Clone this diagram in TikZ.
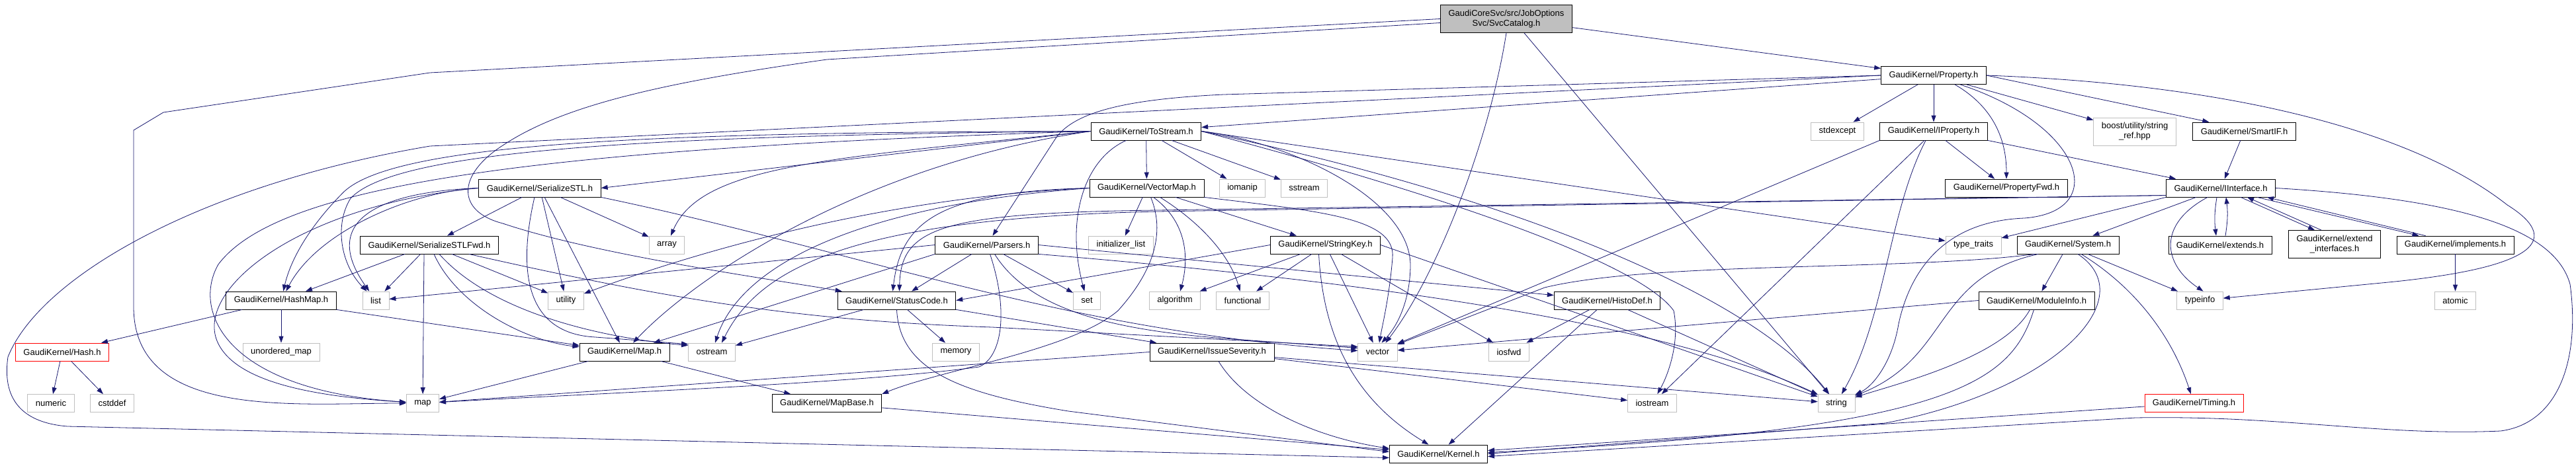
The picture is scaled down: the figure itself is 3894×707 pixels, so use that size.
\documentclass[tikz,border=0pt]{standalone}
\usepackage{fontspec}
\setmainfont{Liberation Sans}
\usetikzlibrary{arrows.meta}
\definecolor{edgeblue}{HTML}{191970}
\definecolor{stdgray}{HTML}{BFBFBF}
\begin{document}
\begin{tikzpicture}
    [
        x=1pt, y=-1pt,
        header/.style={rectangle, draw=black, fill=white, line width=0.8pt, inner xsep=12pt, inner ysep=0pt, minimum height=27pt, align=center, font=\fontsize{13}{15}\selectfont},
        stdlib/.style={header, draw=stdgray},
        partial/.style={header, draw=red},
        include/.style={draw=edgeblue, line width=0.8pt, -{Triangle[length=10pt,width=7pt]}},
    ]
    \fill[white] (0,0) rectangle (3894,707);
    \useasboundingbox (0,0) rectangle (3894,707);

    \node[header, fill=stdgray, minimum height=42pt] (cat) at (2277,28.5) {GaudiCoreSvc/src/JobOptions\\Svc/SvcCatalog.h};
    \node[header] (prop) at (2923,114) {GaudiKernel/Property.h};
    \node[header] (ts) at (1732.5,198.5) {GaudiKernel/ToStream.h};
    \node[stdlib] (stdexc) at (2777.5,198.5) {stdexcept};
    \node[header] (iprop) at (2923,198.5) {GaudiKernel/IProperty.h};
    \node[stdlib, minimum height=42pt] (boost) at (3227,199) {boost/utility/string\\\_ref.hpp};
    \node[header] (smartif) at (3392.5,198.5) {GaudiKernel/SmartIF.h};
    \node[header] (sstl) at (816,284.5) {GaudiKernel/SerializeSTL.h};
    \node[header] (vmap) at (1733.5,284.5) {GaudiKernel/VectorMap.h};
    \node[stdlib] (iomanip) at (1878,284.5) {iomanip};
    \node[stdlib] (sstream) at (1971.5,284.5) {sstream};
    \node[header] (pfwd) at (3033,284.5) {GaudiKernel/PropertyFwd.h};
    \node[header] (iint) at (3357,284.5) {GaudiKernel/IInterface.h};
    \node[header] (sfwd) at (649,370.5) {GaudiKernel/SerializeSTLFwd.h};
    \node[stdlib] (array) at (1008,370.5) {array};
    \node[header] (pars) at (1491.5,370.5) {GaudiKernel/Parsers.h};
    \node[stdlib] (initl) at (1694.5,370.5) {initializer\_list};
    \node[header] (skey) at (2003.5,370.5) {GaudiKernel/StringKey.h};
    \node[stdlib] (ttraits) at (2983,370.5) {type\_traits};
    \node[header] (system) at (3126,370.5) {GaudiKernel/System.h};
    \node[header] (ext) at (3356,370.5) {GaudiKernel/extends.h};
    \node[header, minimum height=42pt] (extif) at (3529,369.5) {GaudiKernel/extend\\\_interfaces.h};
    \node[header] (impl) at (3711.5,370.5) {GaudiKernel/implements.h};
    \node[header] (hmap) at (425,454.5) {GaudiKernel/HashMap.h};
    \node[stdlib] (list) at (568,454.5) {list};
    \node[stdlib] (util) at (855.5,454.5) {utility};
    \node[header] (sc) at (1355.5,454.5) {GaudiKernel/StatusCode.h};
    \node[stdlib] (set) at (1643,454.5) {set};
    \node[stdlib] (algo) at (1776,454.5) {algorithm};
    \node[stdlib] (func) at (1878.5,454.5) {functional};
    \node[header] (hdef) at (2429.5,454.5) {GaudiKernel/HistoDef.h};
    \node[header] (minfo) at (3078.5,454.5) {GaudiKernel/ModuleInfo.h};
    \node[stdlib] (tinfo) at (3325.5,454.5) {typeinfo};
    \node[stdlib] (atomic) at (3711.5,454.5) {atomic};
    \node[partial] (hash) at (94,532.5) {GaudiKernel/Hash.h};
    \node[stdlib] (umap) at (425,532.5) {unordered\_map};
    \node[header] (gmap) at (944,532.5) {GaudiKernel/Map.h};
    \node[stdlib] (ostream) at (1076,532.5) {ostream};
    \node[stdlib] (memory) at (1445,532.5) {memory};
    \node[header] (isev) at (1832,532.5) {GaudiKernel/IssueSeverity.h};
    \node[stdlib] (vector) at (2082.5,532.5) {vector};
    \node[stdlib] (iosfwd) at (2281,532.5) {iosfwd};
    \node[stdlib] (numeric) at (77,610) {numeric};
    \node[stdlib] (cstddef) at (169.5,610) {cstddef};
    \node[stdlib] (map) at (639,610) {map};
    \node[header] (mbase) at (1250,610) {GaudiKernel/MapBase.h};
    \node[stdlib] (iostream) at (2497.5,610) {iostream};
    \node[stdlib] (string) at (2776,610) {string};
    \node[partial] (timing) at (3316.5,610) {GaudiKernel/Timing.h};
    \node[header] (kernel) at (2174.5,686.5) {GaudiKernel/Kernel.h};

    \draw[include] (cat) -- (prop);
    \draw[include] (cat.west) -- (650,110) -- (247,170) -- (202,197) -- (202,464) to [out=-90,in=180] (map.west);
    \draw[include] ([yshift=-6pt]cat.west) -- (1250,90) .. controls (1000,125) and (850,160) .. (760,220) .. controls (690,265) and (690,320) .. (760,338) .. controls (900,385) and (1150,420) .. (sc);
    \draw[include] (cat.south) .. controls (2250,220) and (2170,420) .. ([xshift=12pt]vector.north);
    \draw[include] ([xshift=27pt]cat.south) -- (string);

    \draw[include] (prop) -- (ts);
    \draw[include] (prop) -- (stdexc);
    \draw[include] (prop) -- (iprop);
    \draw[include] ([xshift=32pt]prop.south) to [out=-30,in=90] (pfwd.north);
    \draw[include] (prop) -- (boost);
    \draw[include] (prop.east) -- ([xshift=25pt]smartif.north west);
    \draw[include] (prop.east) .. controls (3380,128) and (3650,200) .. (3790,310) .. controls (3870,360) and (3845,405) .. (3600,428) -- (tinfo);
    \draw[include] ([xshift=40pt]prop.south) .. controls (3150,190) and (3190,320) .. (3060,330) .. controls (2930,335) and (2885,420) .. (2870,490) .. controls (2860,550) and (2830,585) .. (string);
    \draw[include] (prop.west) -- (650,221) .. controls (300,280) and (60,420) .. (12,540) .. controls (2,610) and (40,640) .. (102,645) -- ([yshift=-6pt]kernel.west);
    \draw[include] (prop.west) -- (1850,143) .. controls (1700,150) and (1620,170) .. (1594,212) -- (pars);

    \draw[include] (ts) -- (vmap);
    \draw[include] (ts) -- (iomanip);
    \draw[include] (ts) -- (sstream);
    \draw[include] ([xshift=-30pt]ts.south) .. controls (1640,240) and (1610,330) .. (set);
    \draw[include] (ts.east) -- (ttraits);
    \draw[include] (ts.east) .. controls (1950,215) and (2130,300) .. (2132,400) .. controls (2132,450) and (2115,490) .. ([xshift=6pt]vector.north);
    \draw[include] (ts.east) .. controls (2200,300) and (2480,400) .. (2530,470) .. controls (2540,520) and (2520,570) .. (iostream);
    \draw[include] (ts.east) .. controls (2300,300) and (2650,450) .. (string);
    \draw[include] (ts.west) -- (sstl.east);
    \draw[include] (ts.west) .. controls (1250,240) and (1060,250) .. (array);
    \draw[include] (ts.west) .. controls (1000,200) and (600,215) .. (520,290) .. controls (470,340) and (440,390) .. (hmap);
    \draw[include] (ts.west) .. controls (1000,205) and (600,225) .. (530,300) .. controls (505,340) and (515,400) .. (list);
    \draw[include] (ts.west) .. controls (800,225) and (420,280) .. (330,400) .. controls (290,470) and (340,590) .. (map);
    \draw[include] (ts.west) .. controls (1300,250) and (1050,420) .. ([xshift=13pt]gmap.north);

    \draw[include] (sstl) -- (sfwd);
    \draw[include] (sstl.west) .. controls (620,290) and (480,350) .. (hmap);
    \draw[include] (sstl.west) .. controls (580,290) and (480,330) .. (list);
    \draw[include] (sstl.west) .. controls (450,310) and (290,440) .. (330,520) .. controls (360,580) and (480,600) .. (map);
    \draw[include] (sstl) -- (gmap);
    \draw[include] (sstl) -- (array);
    \draw[include] (sstl) -- (util);
    \draw[include] ([xshift=-8pt]sstl.south) .. controls (780,420) and (800,505) .. (900,510) -- ([yshift=-2pt]ostream.north west);
    \draw[include] (sstl.south east) .. controls (1300,380) and (1600,500) .. (vector);

    \draw[include] (sfwd) -- (hmap);
    \draw[include] (sfwd) -- (list);
    \draw[include] ([xshift=-8pt]sfwd.south) -- (map);
    \draw[include] ([xshift=7pt]sfwd.south) .. controls (690,460) and (790,515) .. (gmap);
    \draw[include] ([xshift=15pt]sfwd.south) .. controls (740,470) and (900,510) .. ([yshift=-4pt]ostream.north west);
    \draw[include] (sfwd) -- (util);
    \draw[include] ([xshift=60pt]sfwd.south) .. controls (1000,450) and (1200,485) .. (1500,495) -- ([yshift=8pt]vector.west);

    \draw[include] (hmap) -- (hash);
    \draw[include] (hmap) -- (umap);
    \draw[include] (hmap.south east) -- (gmap);
    \draw[include] (hash) -- (numeric);
    \draw[include] (hash) -- (cstddef);
    \draw[include] (gmap) -- (map);
    \draw[include] (gmap) -- (mbase);
    \draw[include] (mbase) -- (kernel);

    \draw[include] (vmap) -- (initl);
    \draw[include] ([xshift=10pt]vmap.south) .. controls (1800,340) and (1795,400) .. ([xshift=8pt]algo.north);
    \draw[include] ([xshift=20pt]vmap.south) .. controls (1820,340) and (1860,390) .. (func);
    \draw[include] ([xshift=6pt]vmap.south) .. controls (1765,360) and (1735,420) .. (1690,470) .. controls (1620,530) and (1420,560) .. (mbase.north east);
    \draw[include] (vmap) -- (skey);
    \draw[include] (vmap.south east) .. controls (2000,320) and (2110,330) .. (2105,390) .. controls (2100,450) and (2090,490) .. (vector);
    \draw[include] (vmap.west) .. controls (1300,300) and (1000,400) .. (util);
    \draw[include] (vmap.west) .. controls (1300,310) and (1120,400) .. ([xshift=5pt]ostream.north);
    \draw[include] (vmap.west) .. controls (1420,290) and (1362,335) .. ([xshift=-6pt]sc.north);

    \draw[include] (pars) -- (sc);
    \draw[include] (pars.west) -- (list);
    \draw[include] (pars.south west) -- (gmap);
    \draw[include] ([xshift=5pt]pars.south) .. controls (1525,470) and (1515,540) .. (1480,555) .. controls (1300,580) and (900,595) .. (map);
    \draw[include] (pars) -- (set);
    \draw[include] (pars.south east) .. controls (2000,420) and (2500,480) .. (string);
    \draw[include] ([xshift=12pt]pars.south) .. controls (1560,475) and (1700,500) .. (1850,512) -- ([yshift=6pt]vector.west);
    \draw[include] (pars.east) -- (hdef);

    \draw[include] (skey.west) -- (sc.east);
    \draw[include] (skey) -- (algo);
    \draw[include] (skey) -- (func);
    \draw[include] (skey) -- (vector);
    \draw[include] (skey) -- (iosfwd);
    \draw[include] (skey.east) -- (string);
    \draw[include] ([xshift=-10pt]skey.south) .. controls (2000,500) and (2040,600) .. ([xshift=-15pt]kernel.north);

    \draw[include] (hdef) -- (iosfwd);
    \draw[include] (hdef) -- (string);
    \draw[include] (hdef) -- (kernel);

    \draw[include] (sc) -- (ostream);
    \draw[include] (sc) -- (memory);
    \draw[include] (sc.south east) -- (isev);
    \draw[include] (sc.south) .. controls (1360,560) and (1450,595) .. (1615,622) -- ([yshift=3pt]kernel.west);

    \draw[include] (isev.west) -- (map);
    \draw[include] ([yshift=-8pt]isev.east) -- (string);
    \draw[include] ([yshift=-10pt]isev.east) -- (iostream);
    \draw[include] ([xshift=10pt]isev.south) .. controls (1880,610) and (1980,660) .. ([yshift=8pt]kernel.west);

    \draw[include] (iprop.south east) -- (iint);
    \draw[include] (iprop) -- (pfwd);
    \draw[include] ([xshift=-12pt]iprop.south) .. controls (2855,320) and (2850,480) .. (string);
    \draw[include] ([xshift=-14pt]iprop.south) -- (iostream);
    \draw[include] (iprop.south west) -- (vector);

    \draw[include] ([yshift=-11pt]iint.west) -- (1750,318) .. controls (1420,322) and (1362,345) .. ([xshift=4pt]sc.north);
    \draw[include] ([yshift=-11pt]iint.west) -- (1750,320) .. controls (1300,330) and (1150,400) .. ([xshift=15pt]ostream.north);
    \draw[include] (iint.south west) -- (ttraits);
    \draw[include] (iint) -- (system);
    \draw[include] ([xshift=-20pt]iint.south) .. controls (3260,340) and (3270,400) .. ([xshift=5pt]tinfo.north);
    \draw[include] ([xshift=-6pt]iint.south) to [bend right=8] ([xshift=-6pt]ext.north);
    \draw[include] ([xshift=8pt]ext.north) to [bend right=8] ([xshift=8pt]iint.south);
    \draw[include] ([xshift=30pt]iint.south) -- ([xshift=-30pt]extif.north);
    \draw[include] ([xshift=-20pt]extif.north) -- ([xshift=40pt]iint.south);
    \draw[include] ([xshift=55pt]iint.south) -- ([xshift=-55pt]impl.north);
    \draw[include] ([xshift=-45pt]impl.north) -- ([xshift=70pt]iint.south);
    \draw[include] (iint.east) .. controls (3700,300) and (3860,340) .. (3885,430) .. controls (3900,540) and (3870,640) .. (3780,652) .. controls (3600,660) and (3450,628) .. (3228,632) -- ([yshift=-4pt]kernel.east);

    \draw[include] (system) -- (minfo);
    \draw[include] ([xshift=30pt]system.south) -- (tinfo);
    \draw[include] ([xshift=20pt]system.south) .. controls (3220,430) and (3280,500) .. (timing);
    \draw[include] ([xshift=-45pt]system.south) .. controls (2920,420) and (2950,540) .. (string);
    \draw[include] ([xshift=15pt]system.south) .. controls (3240,450) and (3110,590) .. (2850,640) -- (kernel.east);
    \draw[include] ([xshift=-50pt]system.south) .. controls (2880,410) and (2500,395) .. (2335,435) -- (vector);

    \draw[include] ([xshift=-10pt]minfo.south) .. controls (3030,540) and (2870,580) .. (string);
    \draw[include] ([xshift=-4pt]minfo.south) .. controls (3040,580) and (2950,650) .. ([yshift=2pt]kernel.east);
    \draw[include] (minfo.west) -- (vector);

    \draw[include] (timing) -- (kernel);
    \draw[include] (smartif) -- (iint);
    \draw[include] (impl) -- (atomic);
\end{tikzpicture}
\end{document}
